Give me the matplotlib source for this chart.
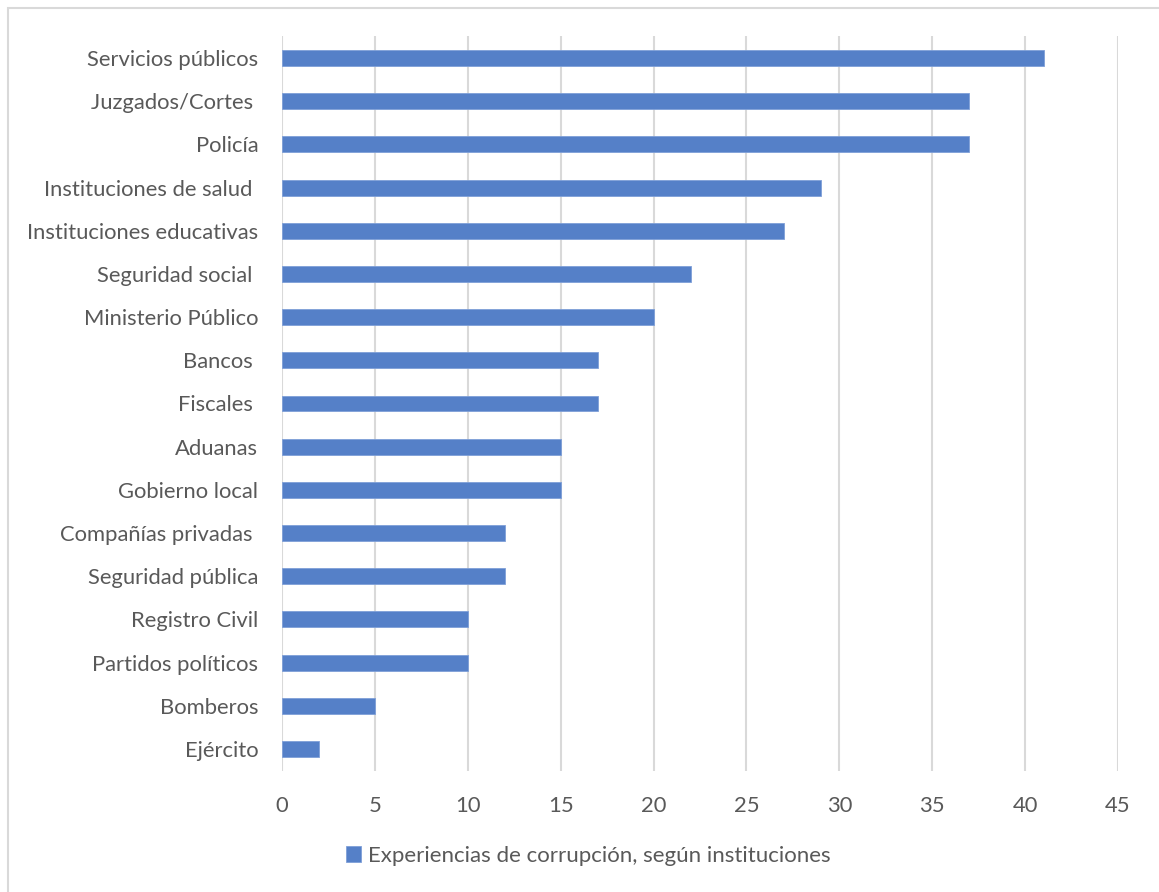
import matplotlib
matplotlib.use("Agg")
from matplotlib import pyplot, patches

instituciones = [
    "Servicios públicos", "Juzgados/Cortes ", "Policía", "Instituciones de salud ",
    "Instituciones educativas", "Seguridad social ", "Ministerio Público", "Bancos ",
    "Fiscales ", "Aduanas", "Gobierno local", "Compañías privadas ",
    "Seguridad pública", "Registro Civil", "Partidos políticos", "Bomberos", "Ejército",
]
experiencias = [41, 37, 37, 29, 27, 22, 20, 17, 17, 15, 15, 12, 12, 10, 10, 5, 2]
serie = "Experiencias de corrupción, según instituciones"
x_ticks = [0, 5, 10, 15, 20, 25, 30, 35, 40, 45]

text_color = "#595959"
bar_color = "#5580C8"
grid_color = "#D9D9D9"


def main():
    pyplot.rcParams["font.family"] = ["Lato", "DejaVu Sans"]
    fig = pyplot.figure(figsize=(11.59, 8.92), dpi=100)
    ax = fig.add_axes([0.2433, 0.1361, 0.7213, 0.8231])

    # chart area border
    fig.patches.append(patches.Rectangle(
        (8 / 1159, -0.05), 1.1, 1 - 8 / 892 + 0.05, transform=fig.transFigure,
        fill=False, edgecolor="#D9D9D9", linewidth=1.5))

    pos = list(range(len(instituciones)))
    ax.barh(pos, experiencias, height=0.37, color=bar_color,
            edgecolor="#7F9FD8", linewidth=0.6, label=serie, zorder=3)

    ax.set_ylim(len(instituciones) - 0.5, -0.5)
    ax.set_xlim(0, 45)
    ax.set_xticks(x_ticks)
    ax.set_yticks(pos)
    ax.set_yticklabels(instituciones)
    ax.xaxis.grid(True, color=grid_color, linewidth=1.5, zorder=0)
    ax.set_axisbelow(True)
    for s in ax.spines.values():
        s.set_visible(False)
    ax.tick_params(axis="both", length=0, labelsize=15.8, labelcolor=text_color)
    ax.tick_params(axis="x", pad=18)
    ax.tick_params(axis="y", pad=17)
    ax.patch.set_alpha(0)

    fig.legend(loc="center", bbox_to_anchor=(588 / 1159, 1 - 856 / 892),
               frameon=False, fontsize=16, labelcolor=text_color,
               handlelength=0.7, handleheight=0.7, handletextpad=0.3)

    fig.savefig("out.png", dpi=100)


if __name__ == "__main__":
    main()
